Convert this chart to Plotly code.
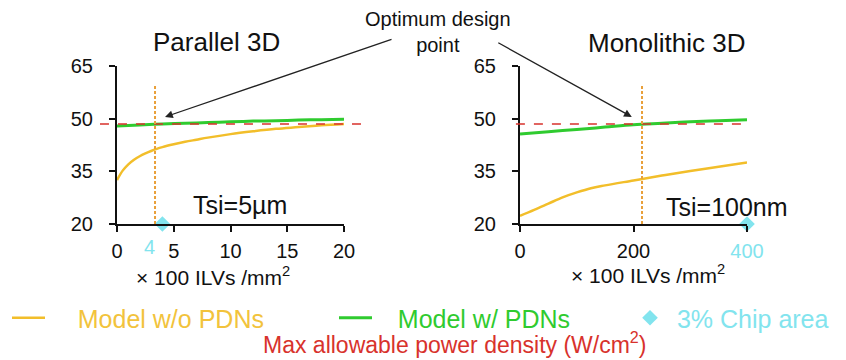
import plotly.graph_objects as go

# ILV density in units of 100 ILVs/mm^2, max allowable power density in W/cm^2
p3d_ilv = [0, 0.5, 1, 1.5, 2, 2.5, 3, 3.5, 4, 5, 6, 7, 8, 10, 12, 14, 16, 18, 20]
p3d_no_pdn = [32.5, 35.2, 37.0, 38.3, 39.3, 40.1, 40.8, 41.4, 41.9, 42.7, 43.4,
              44.0, 44.6, 45.6, 46.4, 47.1, 47.6, 48.1, 48.5]
p3d_ilv_pdn = [0, 2, 4, 6, 8, 10, 12, 14, 16, 18, 20]
p3d_pdn = [47.9, 48.2, 48.5, 48.7, 48.9, 49.1, 49.3, 49.4, 49.6, 49.7, 49.8]

m3d_ilv = [0, 25, 50, 75, 100, 125, 150, 200, 250, 300, 350, 400]
m3d_no_pdn = [22.3, 24.0, 25.8, 27.6, 29.0, 30.2, 31.0, 32.4, 33.8, 35.1, 36.3, 37.5]
m3d_ilv_pdn = [0, 50, 100, 150, 200, 250, 300, 350, 400]
m3d_pdn = [45.6, 46.3, 46.9, 47.6, 48.3, 48.7, 49.1, 49.4, 49.7]

max_power_density = 48.5
optimum_ilv = [3.35, 215]
chip_area_ilv = [4, 400]
chip_area_y = 20

y_ticks = [20, 35, 50, 65]
p3d_ticks = [0, 5, 10, 15, 20]
m3d_ticks = [0, 200, 400]

W, H = 846, 360
FONT = "Liberation Sans, Arial, sans-serif"
YELLOW = "#F2BE2A"
YELLOW_TXT = "#F2C33C"
GREEN = "#2FCB2F"
CYAN = "#82E4EE"
RED = "#D8322C"
ORANGE = "#E9A03A"
INK = "#111111"


def px(x):
    return x / W


def py(y):
    return 1 - y / H


fig = go.Figure()

# Parallel 3D
fig.add_trace(go.Scatter(x=p3d_ilv, y=p3d_no_pdn, mode="lines", line=dict(color=YELLOW, width=2.5, shape="spline"),
                         name="\u00a0\u00a0\u00a0\u00a0Model w/o PDNs", legend="legend", xaxis="x", yaxis="y"))
fig.add_trace(go.Scatter(x=p3d_ilv_pdn, y=p3d_pdn, mode="lines", line=dict(color=GREEN, width=3, shape="spline"),
                         name="\u00a0\u00a0\u00a0Model w/ PDNs", legend="legend2", xaxis="x", yaxis="y"))
fig.add_trace(go.Scatter(x=[chip_area_ilv[0]], y=[chip_area_y], mode="markers",
                         marker=dict(symbol="diamond", size=12, color=CYAN), cliponaxis=False,
                         name="\u00a03% Chip area", legend="legend3", xaxis="x", yaxis="y"))

# Monolithic 3D
fig.add_trace(go.Scatter(x=m3d_ilv, y=m3d_no_pdn, mode="lines", line=dict(color=YELLOW, width=2.5, shape="spline"),
                         showlegend=False, xaxis="x2", yaxis="y2"))
fig.add_trace(go.Scatter(x=m3d_ilv_pdn, y=m3d_pdn, mode="lines", line=dict(color=GREEN, width=3, shape="spline"),
                         showlegend=False, xaxis="x2", yaxis="y2"))
fig.add_trace(go.Scatter(x=[chip_area_ilv[1]], y=[chip_area_y], mode="markers",
                         marker=dict(symbol="diamond", size=12, color=CYAN), cliponaxis=False,
                         showlegend=False, xaxis="x2", yaxis="y2"))

axis_style = dict(showline=True, linecolor=INK, linewidth=2, ticks="outside", ticklen=6, tickwidth=2,
                  tickcolor=INK, showgrid=False, zeroline=False, automargin=False,
                  tickfont=dict(size=20, color=INK, family=FONT))

legend_style = dict(orientation="h", xanchor="left", yanchor="middle", bgcolor="rgba(0,0,0,0)")

fig.update_layout(
    template="none",
    width=W, height=H, margin=dict(l=0, r=0, t=0, b=0, autoexpand=False),
    paper_bgcolor="white", plot_bgcolor="white",
    font=dict(family=FONT, color=INK),
    xaxis=dict(domain=[px(117), px(344)], range=[0, 20], tickvals=p3d_ticks, anchor="y",
               ticklabelstandoff=2, **axis_style),
    yaxis=dict(domain=[py(224), py(66)], range=[20, 65], tickvals=y_ticks, anchor="x",
               ticklabelstandoff=12, **axis_style),
    xaxis2=dict(domain=[px(520), px(747)], range=[0, 400], tickvals=m3d_ticks, anchor="y2",
                ticktext=["0", "200", f"<span style='color:{CYAN}'>400</span>"],
                ticklabelstandoff=2, **axis_style),
    yaxis2=dict(domain=[py(224), py(66)], range=[20, 65], tickvals=y_ticks, anchor="x2",
                ticklabelstandoff=12, **axis_style),
    legend=dict(x=px(7), y=py(318), itemwidth=33,
                font=dict(size=25, color=YELLOW_TXT, family=FONT), **legend_style),
    legend2=dict(x=px(334), y=py(318), itemwidth=33,
                 font=dict(size=25, color=GREEN, family=FONT), **legend_style),
    legend3=dict(x=px(630), y=py(318), itemwidth=30,
                 font=dict(size=25, color=CYAN, family=FONT), **legend_style),
)

# Max allowable power density and optimum design point guides
for xr, x0, x1, yr in [("x domain", -0.075, 1.075, "y"), ("x2 domain", -0.018, 1.0, "y2")]:
    fig.add_shape(type="line", xref=xr, x0=x0, x1=x1, yref=yr, y0=max_power_density, y1=max_power_density,
                  line=dict(color=RED, width=1.5, dash="dash"), layer="above")
for xr, yr, xo in [("x", "y domain", optimum_ilv[0]), ("x2", "y2 domain", optimum_ilv[1])]:
    fig.add_shape(type="line", xref=xr, x0=xo, x1=xo, yref=yr, y0=0, y1=0.875,
                  line=dict(color=ORANGE, width=2, dash="3px,2px"), layer="above")

annotations = [
    dict(text="Parallel 3D", x=px(217), y=py(42), size=26),
    dict(text="Monolithic 3D", x=px(667), y=py(43), size=26),
    dict(text="Optimum design<br>point", x=px(438), y=py(32), size=20),
    dict(text="Tsi=5µm", x=px(240), y=py(205), size=25),
    dict(text="Tsi=100nm", x=px(727), y=py(207), size=25),
    dict(text="× 100 ILVs /mm<sup>2</sup>", x=px(213), y=py(276), size=21),
    dict(text="× 100 ILVs /mm<sup>2</sup>", x=px(648), y=py(274), size=21),
    dict(text="Max allowable power density (W/cm<sup>2</sup>)", x=px(454), y=py(343), size=23, color=RED),
]
for a in annotations:
    fig.add_annotation(text=a["text"], x=a["x"], y=a["y"], xref="paper", yref="paper",
                       xanchor="center", yanchor="middle", showarrow=False, align="center",
                       font=dict(size=a["size"], color=a.get("color", INK), family=FONT))

# Density label next to the 3% chip-area marker
fig.add_annotation(text=str(chip_area_ilv[0]), x=chip_area_ilv[0], xref="x", y=py(247), yref="paper",
                   xshift=-13, yanchor="middle", showarrow=False, font=dict(size=20, color=CYAN, family=FONT))

# Arrows pointing at the optimum design points
fig.add_annotation(text="", x=4.23, y=50.5, xref="x", yref="y", ax=228, ay=-78, showarrow=True,
                   arrowhead=2, arrowsize=1.2, arrowwidth=1.3, arrowcolor="#222222")
fig.add_annotation(text="", x=197, y=50.5, xref="x2", yref="y2", ax=-135, ay=-75, showarrow=True,
                   arrowhead=2, arrowsize=1.2, arrowwidth=1.3, arrowcolor="#222222")

fig.write_html("out.html")
